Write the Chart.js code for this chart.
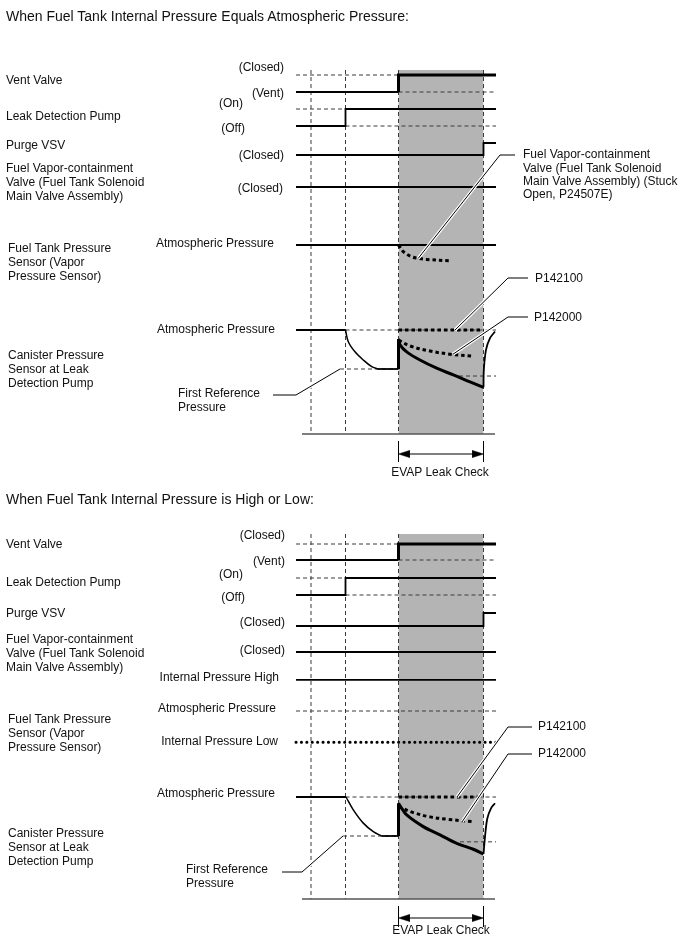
<!DOCTYPE html>
<html>
<head>
<meta charset="utf-8">
<script src="https://cdn.jsdelivr.net/npm/chart.js@4.4.1/dist/chart.umd.min.js"></script>
<style>
  html, body { margin: 0; padding: 0; background: #fff; }
  #wrap { position: relative; width: 688px; height: 949px; overflow: hidden; }
  #chart { position: absolute; left: 0; top: 0; }
  .lbl { position: absolute; font-family: "Liberation Sans", Arial, sans-serif; font-size: 12px; line-height: 14px; color: #111; white-space: nowrap; }
  .title { font-size: 14px; line-height: 16px; }
</style>
</head>
<body>
<div id="wrap">
  <canvas id="chart" width="688" height="949"></canvas>
  <div id="labels"></div>
</div>
<script>
  // ---- time base (arbitrary units, start of trace = 0) ----
  var eventNames = ["start", "reference", "pump on", "leak check start", "leak check end", "end"];
  var eventTimes = [0, 15, 49.5, 102.5, 187.5, 200];

  // ---- on/off lanes (same for both cases) ----
  var ventTimes = [0, 102.5, 102.5, 200];
  var ventState = [0, 0, 1, 1];          // 0 = Vent, 1 = Closed
  var pumpTimes = [0, 49.5, 49.5, 200];
  var pumpState = [0, 0, 1, 1];          // 0 = Off, 1 = On
  var purgeTimes = [0, 187.5, 187.5, 200];
  var purgeState = [0, 0, 1, 1];         // 0 = Closed, 1 = opening
  var fvTimes = [0, 200];
  var fvState = [0, 0];                  // Closed

  // ---- pressures: 0 = atmospheric, -1 = first reference pressure ----
  // case 1: tank pressure equals atmospheric
  var stuckOpenTimes = [102.5, 107.3, 115.7, 122.3, 130.7, 155.7];
  var stuckOpenP = [0, -0.17, -0.30, -0.34, -0.37, -0.41];

  var eqPumpTimes = [49.5, 52.3, 59, 67.3, 75.7, 82];
  var eqPumpP = [0, -0.30, -0.56, -0.77, -0.94, -1];
  var eqCheckTimes = [102.5, 104, 110.7, 124, 140.7, 157.3, 174, 187.5];
  var eqCheckP = [-0.23, -0.38, -0.56, -0.77, -0.98, -1.15, -1.33, -1.47];
  var eqRecoverTimes = [187.5, 187.8, 190, 194, 199];
  var eqRecoverP = [-1.47, -1.03, -0.51, -0.21, -0.04];
  var eqP142000Times = [102.5, 114, 134, 154, 176];
  var eqP142000P = [-0.26, -0.41, -0.54, -0.62, -0.67];
  var eqSecondRef = [163, -1.18];   // [start time, pressure]
  var eqFirstRefStart = 44;

  // case 2: tank pressure high or low
  var tankLevels = [0.8, 0, -0.8];  // high, atmospheric, low

  var hlPumpTimes = [50, 57.3, 67.3, 77.3, 85.7];
  var hlPumpP = [0, -0.33, -0.67, -0.89, -1];
  var hlCheckTimes = [102.5, 104.7, 110.7, 127.3, 144, 160.7, 177.3, 187.5];
  var hlCheckP = [-0.16, -0.25, -0.46, -0.76, -0.97, -1.19, -1.34, -1.46];
  var hlRecoverTimes = [187.5, 189, 191.3, 195, 199];
  var hlRecoverP = [-1.46, -1.02, -0.55, -0.29, -0.16];
  var hlP142000Times = [102.5, 117.3, 134, 150.7, 175.7];
  var hlP142000P = [-0.25, -0.40, -0.51, -0.57, -0.63];
  var hlSecondRef = [164, -1.15];
  var hlFirstRefStart = 47;

  // ---- layout ----
  var INK = "#000";
  var DASH = "#3a3a3a";
  var SHADE = "#b4b4b4";
  var P_SCALE = 39;     // px per pressure unit
  var LW = 1.8, LW_THICK = 3;
  var T_REF = eventTimes[1], T_PUMP = eventTimes[2], T_CHECK = eventTimes[3], T_CHECK_END = eventTimes[4], T_END = eventTimes[5];

  var panels = [
    {
      top: 70, axisY: 434, tickTop: 441, tickBottom: 462, arrowY: 454,
      ventY: 92, ventH: 17, pumpY: 126, pumpH: 17, purgeY: 155, purgeH: 12, fvY: 187,
      tankY: 245, canY: 330,
      pump: [eqPumpTimes, eqPumpP], check: [eqCheckTimes, eqCheckP], recover: [eqRecoverTimes, eqRecoverP],
      p142000: [eqP142000Times, eqP142000P], secondRef: eqSecondRef, firstRefStart: eqFirstRefStart,
      leaders: [
        [[219, 155], [204, 155], [122.3, 245 + 0.34 * P_SCALE]],
        [[232, 278], [212, 278], [159, 330]],
        [[232, 317], [212, 317], [157, 330 + 0.62 * P_SCALE]],
        [[-23, 395], [0, 395], [44, 330 + P_SCALE]]
      ],
      tank: "eq"
    },
    {
      top: 534, axisY: 899, tickTop: 906, tickBottom: 927, arrowY: 918,
      ventY: 560, ventH: 16, pumpY: 595, pumpH: 17, purgeY: 626, purgeH: 13, fvY: 652,
      tankY: 711, canY: 797,
      pump: [hlPumpTimes, hlPumpP], check: [hlCheckTimes, hlCheckP], recover: [hlRecoverTimes, hlRecoverP],
      p142000: [hlP142000Times, hlP142000P], secondRef: hlSecondRef, firstRefStart: hlFirstRefStart,
      leaders: [
        [[236, 727], [212, 727], [161, 797]],
        [[236, 754], [212, 754], [166, 797 + 0.64 * P_SCALE]],
        [[-14, 872], [6, 872], [47, 797 + P_SCALE]]
      ],
      tank: "hl"
    }
  ];

  function series(times, vals, base, h) {
    return times.map(function (t, i) { return { x: t, y: base - vals[i] * h }; });
  }
  function mk(points, opts) {
    var d = { data: points, showLine: true, pointRadius: 0, pointHoverRadius: 0, borderColor: INK,
      borderWidth: LW, backgroundColor: "transparent", fill: false, tension: 0, order: 3 };
    for (var k in opts) d[k] = opts[k];
    return d;
  }
  var thickInCheck = {
    borderWidth: function (ctx) {
      var x = ctx.p0.parsed.x;
      return (x >= T_CHECK && x < T_CHECK_END) ? LW_THICK : LW;
    }
  };
  function dashed(points) { return mk(points, { borderColor: DASH, borderWidth: 1, borderDash: [4, 3], order: 5 }); }
  function dotted(points, tension) { return mk(points, { borderWidth: 3, borderDash: [3.5, 3], tension: tension || 0, order: 3 }); }
  function hline(t0, t1, y) { return [{ x: t0, y: y }, { x: t1, y: y }]; }
  function vline(t, y0, y1) { return [{ x: t, y: y0 }, { x: t, y: y1 }]; }

  var datasets = [];
  panels.forEach(function (p) {
    // shaded leak check window
    datasets.push(mk(hline(T_CHECK, T_CHECK_END, p.top), { borderWidth: 0, fill: { value: p.axisY }, backgroundColor: SHADE, order: 10 }));

    // vertical event lines
    [T_REF, T_PUMP, T_CHECK, T_CHECK_END].forEach(function (t) {
      datasets.push(mk(vline(t, p.top, p.axisY), { borderColor: DASH, borderWidth: 1, borderDash: [4, 3], order: 6 }));
    });

    // time axis
    datasets.push(mk(hline(6, 199, p.axisY), { borderColor: "#555", borderWidth: 1.6, order: 4 }));

    // EVAP leak check bracket
    datasets.push(mk(vline(T_CHECK, p.tickTop, p.tickBottom), { borderWidth: 1 }));
    datasets.push(mk(vline(T_CHECK_END, p.tickTop, p.tickBottom), { borderWidth: 1 }));
    datasets.push(mk(hline(T_CHECK + 4, T_CHECK_END - 4, p.arrowY), { borderWidth: 1 }));
    datasets.push(mk([{ x: T_CHECK, y: p.arrowY }, { x: T_CHECK + 11, y: p.arrowY - 3.5 }, { x: T_CHECK + 11, y: p.arrowY + 3.5 }, { x: T_CHECK, y: p.arrowY }],
      { borderWidth: 0.5, fill: "shape", backgroundColor: INK, order: 1 }));
    datasets.push(mk([{ x: T_CHECK_END, y: p.arrowY }, { x: T_CHECK_END - 11, y: p.arrowY - 3.5 }, { x: T_CHECK_END - 11, y: p.arrowY + 3.5 }, { x: T_CHECK_END, y: p.arrowY }],
      { borderWidth: 0.5, fill: "shape", backgroundColor: INK, order: 1 }));

    // vent valve
    datasets.push(dashed(hline(0, T_CHECK, p.ventY - p.ventH)));
    datasets.push(dashed(hline(T_CHECK, T_END, p.ventY)));
    datasets.push(mk(series(ventTimes, ventState, p.ventY, p.ventH), { segment: thickInCheck }));

    // leak detection pump
    datasets.push(dashed(hline(0, T_PUMP, p.pumpY - p.pumpH)));
    datasets.push(dashed(hline(T_PUMP, T_END, p.pumpY)));
    datasets.push(mk(series(pumpTimes, pumpState, p.pumpY, p.pumpH), { segment: thickInCheck }));

    // purge VSV
    datasets.push(mk(series(purgeTimes, purgeState, p.purgeY, p.purgeH), { segment: thickInCheck }));

    // fuel vapor-containment valve
    datasets.push(mk(series(fvTimes, fvState, p.fvY, 1), { segment: thickInCheck }));

    // fuel tank pressure
    if (p.tank === "eq") {
      datasets.push(mk(hline(0, T_END, p.tankY), { segment: thickInCheck }));
      datasets.push(dotted(series(stuckOpenTimes, stuckOpenP, p.tankY, P_SCALE), 0.35));
    } else {
      datasets.push(mk(hline(0, T_END, p.tankY - tankLevels[0] * P_SCALE), { segment: thickInCheck }));
      datasets.push(dashed(hline(0, T_END, p.tankY - tankLevels[1] * P_SCALE)));
      datasets.push(mk(hline(0, T_END, p.tankY - tankLevels[2] * P_SCALE),
        { borderWidth: 3, borderDash: [0.1, 5.3], borderCapStyle: "round" }));
    }

    // canister pressure
    var pumpT = p.pump[0], pumpP = p.pump[1];
    var chkT = p.check[0], chkP = p.check[1];
    datasets.push(dashed(hline(T_PUMP, T_END, p.canY)));
    datasets.push(dashed(hline(p.firstRefStart, T_CHECK, p.canY + P_SCALE)));
    datasets.push(dashed(hline(p.secondRef[0], T_END, p.canY - p.secondRef[1] * P_SCALE)));
    datasets.push(mk(hline(0, pumpT[0], p.canY)));
    datasets.push(mk(series(pumpT, pumpP, p.canY, P_SCALE), { tension: 0.35, borderWidth: 1.5 }));
    datasets.push(mk(series([pumpT[pumpT.length - 1], T_CHECK, T_CHECK], [-1, -1, chkP[0]], p.canY, P_SCALE), { segment: thickInCheck }));
    datasets.push(mk(series(chkT, chkP, p.canY, P_SCALE), { tension: 0.35, borderWidth: LW_THICK }));
    datasets.push(mk(series(p.recover[0], p.recover[1], p.canY, P_SCALE), { tension: 0.35, borderWidth: LW }));
    datasets.push(dotted(hline(T_CHECK, T_CHECK_END, p.canY)));
    datasets.push(dotted(series(p.p142000[0], p.p142000[1], p.canY, P_SCALE), 0.35));

    // leader lines (white halo + thin black)
    p.leaders.forEach(function (l) {
      var pts = l.map(function (q) { return { x: q[0], y: q[1] }; });
      datasets.push(mk(pts, { borderColor: "#fff", borderWidth: 3.2, order: 2 }));
      datasets.push(mk(pts, { borderColor: INK, borderWidth: 1, order: 1 }));
    });
  });

  new Chart(document.getElementById("chart"), {
    type: "scatter",
    data: { datasets: datasets },
    options: {
      responsive: false,
      animation: false,
      events: [],
      layout: { padding: 0 },
      plugins: { legend: { display: false }, tooltip: { enabled: false } },
      scales: {
        x: { type: "linear", min: -296, max: 392, display: false },
        y: { type: "linear", min: 0, max: 949, reverse: true, display: false }
      }
    }
  });

  // ---- text (left, center-y, align, extra class / line-height) ----
  var texts = [
    ["When Fuel Tank Internal Pressure Equals Atmospheric Pressure:", 6, 16, "l", "title"],
    ["Vent Valve", 6, 80, "l"],
    ["Leak Detection Pump", 6, 116, "l"],
    ["Purge VSV", 6, 145, "l"],
    ["Fuel Vapor-containment<br>Valve (Fuel Tank Solenoid<br>Main Valve Assembly)", 6, 168, "l"],
    ["Fuel Tank Pressure<br>Sensor (Vapor<br>Pressure Sensor)", 8, 248, "l"],
    ["Canister Pressure<br>Sensor at Leak<br>Detection Pump", 8, 355, "l"],
    ["(Closed)", 284, 67, "r"],
    ["(Vent)", 284, 93, "r"],
    ["(On)", 243, 103, "r"],
    ["(Off)", 245, 128, "r"],
    ["(Closed)", 284, 155, "r"],
    ["(Closed)", 283, 188, "r"],
    ["Atmospheric Pressure", 274, 243, "r"],
    ["Atmospheric Pressure", 275, 329, "r"],
    ["First Reference<br>Pressure", 178, 393, "l"],
    ["Fuel Vapor-containment<br>Valve (Fuel Tank Solenoid<br>Main Valve Assembly) (Stuck<br>Open, P24507E)", 523, 155, "l", "", 13.3],
    ["P142100", 535, 278, "l"],
    ["P142000", 534, 317, "l"],
    ["EVAP Leak Check", 440, 472, "c"],

    ["When Fuel Tank Internal Pressure is High or Low:", 6, 499, "l", "title"],
    ["Vent Valve", 6, 544, "l"],
    ["Leak Detection Pump", 6, 582, "l"],
    ["Purge VSV", 6, 613, "l"],
    ["Fuel Vapor-containment<br>Valve (Fuel Tank Solenoid<br>Main Valve Assembly)", 6, 639, "l"],
    ["Fuel Tank Pressure<br>Sensor (Vapor<br>Pressure Sensor)", 8, 719, "l"],
    ["Canister Pressure<br>Sensor at Leak<br>Detection Pump", 8, 833, "l"],
    ["(Closed)", 285, 535, "r"],
    ["(Vent)", 285, 561, "r"],
    ["(On)", 243, 574, "r"],
    ["(Off)", 245, 597, "r"],
    ["(Closed)", 285, 622, "r"],
    ["(Closed)", 285, 650, "r"],
    ["Internal Pressure High", 279, 677, "r"],
    ["Atmospheric Pressure", 276, 708, "r"],
    ["Internal Pressure Low", 278, 741, "r"],
    ["Atmospheric Pressure", 275, 793, "r"],
    ["First Reference<br>Pressure", 186, 869, "l"],
    ["P142100", 538, 726, "l"],
    ["P142000", 538, 753, "l"],
    ["EVAP Leak Check", 441, 930, "c"]
  ];

  var holder = document.getElementById("labels");
  texts.forEach(function (t) {
    var el = document.createElement("div");
    el.className = "lbl" + (t[4] ? " " + t[4] : "");
    el.innerHTML = t[0];
    var lh = t[5] || (t[4] === "title" ? 16 : 14);
    el.style.lineHeight = lh + "px";
    el.style.top = (t[2] - lh / 2) + "px";
    if (t[3] === "r") {
      el.style.right = (688 - t[1]) + "px";
      el.style.textAlign = "right";
    } else if (t[3] === "c") {
      el.style.left = t[1] + "px";
      el.style.transform = "translateX(-50%)";
    } else {
      el.style.left = t[1] + "px";
    }
    holder.appendChild(el);
  });
</script>
</body>
</html>
